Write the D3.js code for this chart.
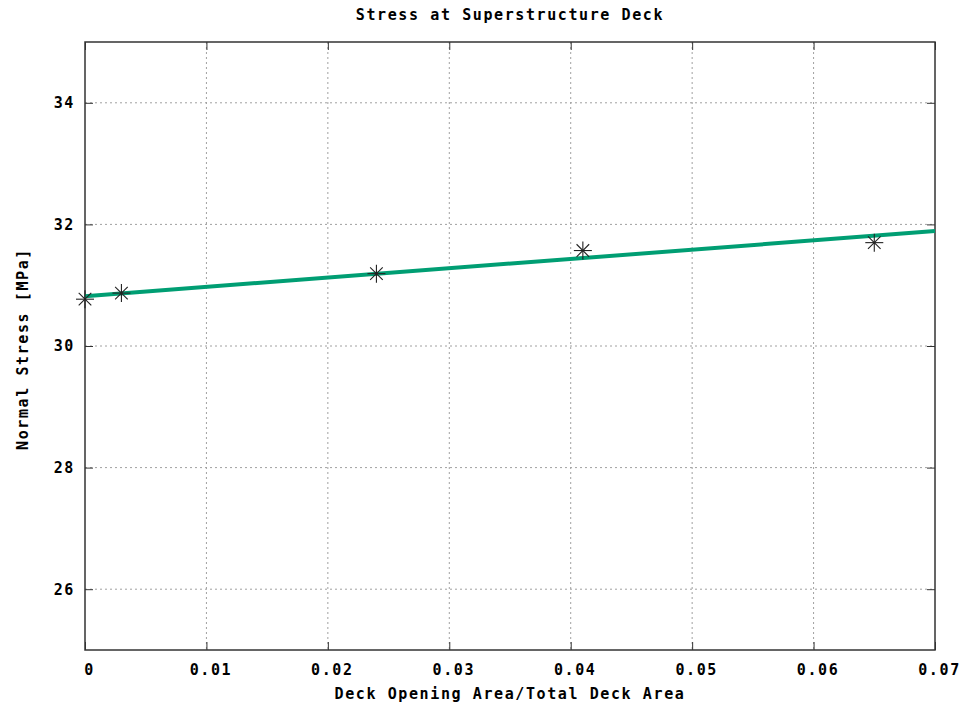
<!DOCTYPE html>
<html>
<head>
<meta charset="utf-8">
<script src="https://cdn.jsdelivr.net/npm/d3@7"></script>
<style>
  body { margin: 0; background: #fff; }
  text { font-family: "DejaVu Sans Mono", monospace; fill: #000; }
</style>
</head>
<body>
<div id="chart"></div>
<script>
// measured points
const ratio = [0, 0.003, 0.024, 0.041, 0.065];
const stress = [30.77, 30.87, 31.19, 31.57, 31.70];

// fitted line, read at the two ends of the axis
const fitRatio = [0, 0.07];
const fitStress = [30.82, 31.89];

const xTicks = [0, 0.01, 0.02, 0.03, 0.04, 0.05, 0.06, 0.07];
const yTicks = [26, 28, 30, 32, 34];

const W = 963, H = 708;
const margin = {top: 42, right: 28, bottom: 58, left: 85};
const width = W - margin.left - margin.right,
      height = H - margin.top - margin.bottom;

const svg = d3.select('#chart').append('svg')
  .attr('width', W).attr('height', H);

const g = svg.append('g')
  .attr('transform', `translate(${margin.left},${margin.top})`);

const x = d3.scaleLinear().domain([0, 0.07]).range([0, width]);
const y = d3.scaleLinear().domain([25, 35]).range([height, 0]);

// gnuplot-ish wide lettering
const textStyle = sel => sel
  .style('font-size', '15px')
  .style('font-weight', 'bold')
  .style('letter-spacing', '1.6px');

// grid lines
g.selectAll('.vgrid').data(xTicks.slice(1, -1)).enter().append('line')
  .attr('x1', d => x(d)).attr('x2', d => x(d))
  .attr('y1', 0).attr('y2', height)
  .attr('stroke', '#a0a0a0').attr('stroke-width', 1)
  .attr('stroke-dasharray', '2,3');
g.selectAll('.hgrid').data(yTicks).enter().append('line')
  .attr('x1', 0).attr('x2', width)
  .attr('y1', d => y(d)).attr('y2', d => y(d))
  .attr('stroke', '#a0a0a0').attr('stroke-width', 1)
  .attr('stroke-dasharray', '2,3');

// axes, ticks pointing inward on all four sides
const fmtX = d => d === 0 ? '0' : d3.format('.2f')(d);
const styleAxis = sel => {
  sel.select('.domain').remove();
  sel.selectAll('line').attr('stroke', '#333');
  sel.selectAll('text').call(textStyle);
};

g.append('g').attr('transform', `translate(0,${height})`)
  .call(d3.axisBottom(x).tickValues(xTicks).tickFormat(fmtX).tickSizeInner(-8).tickSizeOuter(0).tickPadding(14))
  .call(styleAxis)
  .selectAll('text').attr('dx', 4);
g.append('g')
  .call(d3.axisTop(x).tickValues(xTicks).tickFormat('').tickSizeInner(-8).tickSizeOuter(0))
  .call(styleAxis);
g.append('g')
  .call(d3.axisLeft(y).tickValues(yTicks).tickSizeInner(-8).tickSizeOuter(0).tickPadding(10))
  .call(styleAxis);
g.append('g').attr('transform', `translate(${width},0)`)
  .call(d3.axisRight(y).tickValues(yTicks).tickFormat('').tickSizeInner(-8).tickSizeOuter(0))
  .call(styleAxis);

// frame
g.append('rect')
  .attr('width', width).attr('height', height)
  .attr('fill', 'none').attr('stroke', '#333').attr('stroke-width', 1.5);

// fit line
const fit = fitRatio.map((d, i) => [d, fitStress[i]]);
g.append('path').datum(fit)
  .attr('d', d3.line().x(d => x(d[0])).y(d => y(d[1])))
  .attr('fill', 'none').attr('stroke', '#009e73').attr('stroke-width', 4);

// asterisk markers
const pts = ratio.map((d, i) => ({x: d, y: stress[i]}));
const star = g.selectAll('.pt').data(pts).enter().append('g')
  .attr('transform', d => `translate(${x(d.x)},${y(d.y)})`);
const s = 9;
[[-s, 0, s, 0], [0, -s, 0, s], [-s * .7, -s * .7, s * .7, s * .7], [-s * .7, s * .7, s * .7, -s * .7]]
  .forEach(l => {
    star.append('line')
      .attr('x1', l[0]).attr('y1', l[1]).attr('x2', l[2]).attr('y2', l[3])
      .attr('stroke', '#222').attr('stroke-width', 1.1);
  });

// titles
svg.append('text')
  .attr('x', margin.left + width / 2).attr('y', 20)
  .attr('text-anchor', 'middle')
  .call(textStyle)
  .text('Stress at Superstructure Deck');
svg.append('text')
  .attr('x', margin.left + width / 2).attr('y', 699)
  .attr('text-anchor', 'middle')
  .call(textStyle)
  .text('Deck Opening Area/Total Deck Area');
svg.append('text')
  .attr('transform', `translate(28,${margin.top + height / 2 + 3}) rotate(-90)`)
  .attr('text-anchor', 'middle')
  .call(textStyle)
  .text('Normal Stress [MPa]');
</script>
</body>
</html>
